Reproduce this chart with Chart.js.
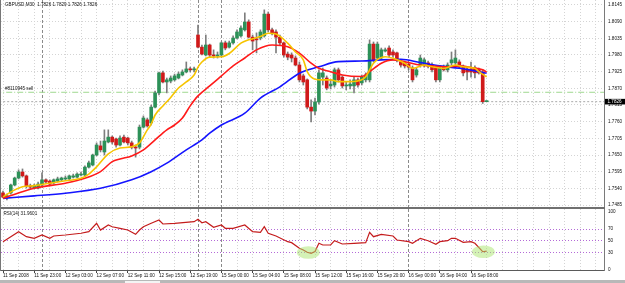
<!DOCTYPE html>
<html>
<head>
<meta charset="utf-8">
<script src="https://cdn.jsdelivr.net/npm/chart.js@4.4.0/dist/chart.umd.min.js"></script>
<style>
  html, body { margin: 0; padding: 0; background: #fff; }
  #wrap { position: relative; width: 625px; height: 283px; overflow: hidden; background: #fff; }
  #priceBox { position: absolute; left: 0; top: 0; width: 625px; height: 207px; }
  #rsiBox { position: absolute; left: 0; top: 209px; width: 625px; height: 74px; }
  #sep { position: absolute; left: 0; top: 207px; width: 605px; height: 2px; background: #707070; }
  #leftEdge { position: absolute; left: 0; top: 0; width: 1px; height: 271px; background: #777; }
  #bottomBar { position: absolute; left: 0; top: 280px; width: 625px; height: 3px; background: #b8b8b8; }
  #thumb { position: absolute; left: 125px; top: 281px; width: 35px; height: 2px; background: #f4f4f4; }
</style>
</head>
<body>
<div id="wrap">
  <div id="priceBox"><canvas id="priceChart" width="625" height="207"></canvas></div>
  <div id="sep"></div>
  <div id="rsiBox"><canvas id="rsiChart" width="625" height="74"></canvas></div>
  <div id="leftEdge"></div>
  <div id="bottomBar"></div>
  <div id="thumb"></div>
</div>
<script>
// GBPUSD M30 candles, bar 0 = 11 Sep 2008 19:00
const candleOpen = [
  1.7525, 1.7511, 1.7525, 1.7551, 1.7574, 1.7594, 1.7581, 1.7548, 1.7541, 1.7541,
  1.7551, 1.7568, 1.7564, 1.7558, 1.7564, 1.7568, 1.7571, 1.7571, 1.7577, 1.7577,
  1.7584, 1.7584, 1.7610, 1.7617, 1.7650, 1.7680, 1.7660, 1.7693, 1.7709, 1.7703,
  1.7683, 1.7709, 1.7706, 1.7690, 1.7676, 1.7676, 1.7742, 1.7766, 1.7756, 1.7808,
  1.7855, 1.7921, 1.7891, 1.7894, 1.7898, 1.7904, 1.7914, 1.7924, 1.7934, 1.7931,
  1.8046, 1.8006, 1.7980, 1.8013, 1.7980, 1.7977, 1.7980, 1.8020, 1.8006, 1.8020,
  1.8036, 1.8043, 1.8063, 1.8089, 1.8039, 1.8033, 1.8036, 1.8043, 1.8115, 1.8063,
  1.8056, 1.8039, 1.8020, 1.7983, 1.7980, 1.7970, 1.7947, 1.7911, 1.7898, 1.7808,
  1.7795, 1.7825, 1.7907, 1.7904, 1.7878, 1.7881, 1.7931, 1.7907, 1.7878, 1.7878,
  1.7878, 1.7898, 1.7888, 1.7898, 1.7898, 1.8016, 1.7970, 1.7970, 1.7993, 1.8003,
  1.7990, 1.7987, 1.7957, 1.7954, 1.7950, 1.7937, 1.7914, 1.7947, 1.7947, 1.7954,
  1.7947, 1.7937, 1.7898, 1.7940, 1.7931, 1.7954, 1.7954, 1.7957, 1.7940, 1.7934,
  1.7934, 1.7937, 1.7931, 1.7924, 1.7826
];
const candleHigh = [
  1.7531, 1.7521, 1.7554, 1.7577, 1.7601, 1.7604, 1.7584, 1.7554, 1.7554, 1.7561,
  1.7591, 1.7571, 1.7568, 1.7571, 1.7577, 1.7577, 1.7581, 1.7584, 1.7587, 1.7591,
  1.7594, 1.7614, 1.7630, 1.7653, 1.7690, 1.7696, 1.7733, 1.7733, 1.7713, 1.7706,
  1.7713, 1.7716, 1.7709, 1.7696, 1.7683, 1.7749, 1.7779, 1.7772, 1.7815, 1.7861,
  1.7924, 1.7927, 1.7904, 1.7911, 1.7917, 1.7924, 1.7931, 1.7957, 1.7940, 1.7940,
  1.8079, 1.8013, 1.8046, 1.8016, 1.7997, 1.7990, 1.8023, 1.8026, 1.8026, 1.8043,
  1.8063, 1.8076, 1.8119, 1.8096, 1.8046, 1.8053, 1.8063, 1.8129, 1.8122, 1.8069,
  1.8063, 1.8046, 1.8023, 1.7990, 1.7987, 1.7977, 1.7957, 1.7917, 1.7901, 1.7832,
  1.7838, 1.7931, 1.7937, 1.7911, 1.7898, 1.7937, 1.7937, 1.7911, 1.7891, 1.7898,
  1.7907, 1.7904, 1.7914, 1.7921, 1.8030, 1.8023, 1.8023, 1.8003, 1.8003, 1.8010,
  1.7997, 1.7990, 1.7964, 1.7960, 1.7957, 1.7944, 1.7937, 1.7980, 1.7970, 1.7960,
  1.7954, 1.7944, 1.7944, 1.7947, 1.7954, 1.7990, 1.7997, 1.7964, 1.7947, 1.7940,
  1.7957, 1.7944, 1.7937, 1.7931, 1.7829
];
const candleLow = [
  1.7508, 1.7502, 1.7521, 1.7548, 1.7571, 1.7577, 1.7541, 1.7538, 1.7538, 1.7538,
  1.7548, 1.7558, 1.7551, 1.7554, 1.7561, 1.7564, 1.7568, 1.7568, 1.7574, 1.7574,
  1.7581, 1.7581, 1.7607, 1.7614, 1.7647, 1.7660, 1.7650, 1.7690, 1.7686, 1.7676,
  1.7680, 1.7690, 1.7683, 1.7670, 1.7643, 1.7670, 1.7739, 1.7742, 1.7749, 1.7805,
  1.7848, 1.7888, 1.7855, 1.7888, 1.7894, 1.7901, 1.7911, 1.7921, 1.7924, 1.7924,
  1.8003, 1.7980, 1.7977, 1.7973, 1.7970, 1.7970, 1.7977, 1.7997, 1.8003, 1.8016,
  1.8033, 1.8039, 1.8059, 1.8036, 1.7997, 1.7987, 1.8030, 1.8039, 1.8056, 1.8046,
  1.7987, 1.8013, 1.7973, 1.7964, 1.7957, 1.7944, 1.7891, 1.7881, 1.7802, 1.7759,
  1.7782, 1.7818, 1.7881, 1.7865, 1.7868, 1.7874, 1.7891, 1.7871, 1.7865, 1.7868,
  1.7855, 1.7874, 1.7881, 1.7891, 1.7891, 1.7957, 1.7964, 1.7964, 1.7990, 1.7973,
  1.7973, 1.7957, 1.7940, 1.7937, 1.7931, 1.7891, 1.7907, 1.7940, 1.7940, 1.7937,
  1.7924, 1.7891, 1.7891, 1.7927, 1.7924, 1.7947, 1.7944, 1.7937, 1.7911, 1.7898,
  1.7907, 1.7904, 1.7917, 1.7820, 1.7826
];
const candleClose = [
  1.7511, 1.7515, 1.7551, 1.7574, 1.7594, 1.7581, 1.7548, 1.7544, 1.7548, 1.7554,
  1.7568, 1.7561, 1.7554, 1.7568, 1.7571, 1.7574, 1.7574, 1.7581, 1.7581, 1.7587,
  1.7587, 1.7610, 1.7624, 1.7650, 1.7683, 1.7667, 1.7696, 1.7709, 1.7693, 1.7683,
  1.7706, 1.7693, 1.7690, 1.7676, 1.7673, 1.7742, 1.7772, 1.7746, 1.7808, 1.7855,
  1.7921, 1.7891, 1.7898, 1.7904, 1.7911, 1.7917, 1.7924, 1.7934, 1.7931, 1.7934,
  1.8006, 1.7983, 1.8013, 1.7980, 1.7977, 1.7980, 1.8020, 1.8003, 1.8020, 1.8036,
  1.8056, 1.8069, 1.8089, 1.8039, 1.8026, 1.8030, 1.8056, 1.8115, 1.8063, 1.8053,
  1.8039, 1.8020, 1.7980, 1.7973, 1.7970, 1.7947, 1.7898, 1.7891, 1.7808, 1.7795,
  1.7825, 1.7921, 1.7921, 1.7871, 1.7884, 1.7931, 1.7898, 1.7878, 1.7881, 1.7884,
  1.7898, 1.7881, 1.7907, 1.7914, 1.8016, 1.7964, 1.8016, 1.7997, 1.7997, 1.7980,
  1.7980, 1.7964, 1.7947, 1.7944, 1.7940, 1.7898, 1.7931, 1.7970, 1.7964, 1.7944,
  1.7931, 1.7898, 1.7937, 1.7931, 1.7947, 1.7964, 1.7970, 1.7940, 1.7921, 1.7924,
  1.7924, 1.7921, 1.7921, 1.7826, 1.7826
];

// moving averages (bar index -> price)
const fastBar = [0, 3, 5, 8, 12, 16, 20, 22, 24, 27, 30, 33, 35, 37, 38, 39, 41, 43, 45, 47,
  49, 50, 51, 53, 56, 58, 61, 63, 66, 68, 70, 73, 75, 77, 78, 80, 82, 84, 86, 89,
  92, 93, 95, 98, 100, 103, 105, 108, 110, 113, 116, 118, 121, 122, 124];
const fastMa = [1.7512, 1.7535, 1.7545, 1.7549, 1.7557, 1.7565, 1.7573, 1.7587, 1.7611, 1.7654,
  1.7673, 1.7677, 1.7690, 1.7733, 1.7752, 1.7782, 1.7812, 1.7840, 1.7871, 1.7891,
  1.7914, 1.7940, 1.7957, 1.7973, 1.7974, 1.7985, 1.8019, 1.8030, 1.8041, 1.8052,
  1.8049, 1.8019, 1.7990, 1.7964, 1.7925, 1.7900, 1.7898, 1.7898, 1.7892, 1.7892,
  1.7898, 1.7908, 1.7953, 1.7974, 1.7969, 1.7953, 1.7936, 1.7947, 1.7941, 1.7936,
  1.7947, 1.7941, 1.7936, 1.7925, 1.7908];

const midBar = [0, 8, 16, 21, 25, 28, 30, 33, 36, 39, 42, 44, 46, 48, 50, 53, 56, 59, 62, 65,
  69, 73, 76, 79, 81, 84, 87, 92, 94, 97, 100, 103, 107, 110, 114, 117, 120, 123, 124];
const midMa = [1.7507, 1.7540, 1.7557, 1.7573, 1.7595, 1.7628, 1.7637, 1.7647, 1.7667, 1.7700,
  1.7733, 1.7749, 1.7772, 1.7812, 1.7845, 1.7878, 1.7911, 1.7944, 1.7970, 1.7997,
  1.8013, 1.8007, 1.7986, 1.7953, 1.7936, 1.7925, 1.7914, 1.7909, 1.7925, 1.7953,
  1.7964, 1.7958, 1.7947, 1.7944, 1.7941, 1.7944, 1.7939, 1.7931, 1.7924];

const slowBar = [0, 8, 16, 25, 33, 38, 42, 47, 51, 53, 56, 62, 66, 71, 76, 81, 86, 92, 97, 102,
  107, 112, 117, 122, 124];
const slowMa = [1.7507, 1.7515, 1.7524, 1.7540, 1.7568, 1.7595, 1.7623, 1.7667, 1.7700, 1.7722,
  1.7749, 1.7788, 1.7838, 1.7875, 1.7920, 1.7941, 1.7958, 1.7960, 1.7964, 1.7966,
  1.7955, 1.7944, 1.7936, 1.7925, 1.7920];

// RSI(14)
const rsiBar = [0, 4, 6, 8, 10, 12, 13, 16, 20, 22, 24, 25, 27, 28, 30, 32, 34, 35, 36, 38,
  40, 41, 44, 49, 50, 51, 52, 54, 56, 57, 59, 62, 64, 66, 67, 68, 70, 73, 74, 76,
  77, 78, 79, 80, 81, 82, 84, 85, 87, 90, 93, 94, 95, 97, 100, 101, 104, 105, 107, 109,
  111, 112, 114, 115, 116, 118, 120, 121, 123, 124];
const rsiVal = [48.3, 65.5, 56.9, 54.1, 59.8, 54.1, 58.1, 59.8, 62.8, 65.5, 80.0, 68.4, 77.1, 74.1, 71.4, 68.4, 61.0, 68.4, 74.1, 80.0,
  85.7, 78.8, 80.0, 82.8, 86.9, 81.0, 82.8, 73.1, 77.1, 71.4, 71.4, 77.1, 65.5, 64.5, 74.1, 62.8, 58.1, 48.3, 46.6, 36.9,
  34.0, 30.0, 28.3, 31.5, 45.5, 42.6, 42.6, 50.0, 44.3, 45.5, 46.6, 64.5, 56.9, 61.0, 58.1, 51.2, 48.3, 45.5, 54.1, 50.0,
  43.8, 48.3, 50.0, 54.1, 54.1, 47.2, 48.3, 45.5, 31.0, 31.96];
const rsiLevels = [30, 50, 70];
const rsiTicks = [0, 30, 50, 70, 100];
const rsiMarkBar = [78.3, 123.2];
const rsiMarkVal = [29.7, 31.0];

const priceTicks = [1.7485, 1.7540, 1.7595, 1.7650, 1.7705, 1.7760, 1.7815, 1.7870, 1.7925, 1.7980, 1.8035, 1.8090, 1.8145];
const timeLabels = ['11 Sep 2008', '11 Sep 23:00', '12 Sep 03:00', '12 Sep 07:00', '12 Sep 11:00', '12 Sep 15:00',
  '12 Sep 19:00', '15 Sep 00:00', '15 Sep 04:00', '15 Sep 08:00', '15 Sep 12:00', '15 Sep 16:00',
  '15 Sep 20:00', '16 Sep 00:00', '16 Sep 04:00', '16 Sep 08:00'];
const labelBars = [0, 8, 16, 24, 32, 40, 48, 56, 64, 72, 80, 88, 96, 104, 112, 120];
const separatorBars = [10, 50, 56, 104];

const symbolName = 'GBPUSD,M30';
const orderTicket = '8110945';
const orderPrice = 1.7857;

// layout
const xMin = -0.513, xMax = 154.1;
const fontFamily = "'Liberation Sans', Arial, sans-serif";
const fontSmall = { family: fontFamily, size: 4.6 };
const gridBars = [];
for (let b = 0; b <= 152; b += 4) gridBars.push(b);
separatorBars.forEach(b => { if (!gridBars.includes(b)) gridBars.push(b); });
gridBars.sort((a, b) => a - b);

Chart.defaults.font.family = fontFamily;
Chart.defaults.color = '#111';

function isSep(c) { return c.tick && separatorBars.includes(c.tick.value); }

function timeAxis(withLabels) {
  return {
    type: 'linear', min: xMin, max: xMax, offset: false,
    afterBuildTicks: s => { s.ticks = gridBars.map(v => ({ value: v })); },
    afterFit: s => { s.height = withLabels ? 13 : 0; s.paddingLeft = 0; s.paddingRight = 0; },
    grid: {
      offset: false, lineWidth: 1,
      color: c => isSep(c) ? '#8a8a8a' : '#d4d4d4',
      drawTicks: withLabels, tickLength: 3, tickWidth: 1,
      tickColor: c => (c.tick && labelBars.includes(c.tick.value)) ? '#444' : 'rgba(0,0,0,0)'
    },
    border: { display: withLabels, color: '#5a5a5a', width: 1, dash: c => isSep(c) ? [3, 2] : [1, 2] },
    ticks: {
      display: withLabels, autoSkip: false, maxRotation: 0, minRotation: 0, align: 'start', padding: 0,
      font: fontSmall, color: '#111',
      callback: v => { const k = labelBars.indexOf(v); return k >= 0 ? timeLabels[k] : ''; }
    }
  };
}

const priceOverlay = {
  id: 'priceOverlay',
  afterDraw(chart) {
    const ctx = chart.ctx, y = chart.scales.y;
    const n = candleClose.length - 1;
    ctx.save();
    ctx.font = '4.6px ' + fontFamily;
    ctx.textBaseline = 'middle';
    ctx.fillStyle = '#111';
    ctx.fillText(symbolName + '  ' + [candleOpen[n], candleHigh[n], candleLow[n], candleClose[n]].map(v => v.toFixed(4)).join(' '), 5, 4.5);
    ctx.fillText('#' + orderTicket + ' sell', 5, y.getPixelForValue(orderPrice) - 3.5);
    const py = y.getPixelForValue(candleClose[n]);
    ctx.fillStyle = '#000';
    ctx.fillRect(605, py - 2.8, 20, 5.6);
    ctx.fillStyle = '#fff';
    ctx.fillText(candleClose[n].toFixed(4), 607.5, py);
    ctx.restore();
  }
};

const rsiOverlay = {
  id: 'rsiOverlay',
  afterDatasetsDraw(chart) {
    const ctx = chart.ctx, x = chart.scales.x, y = chart.scales.y;
    ctx.save();
    ctx.fillStyle = 'rgba(170, 230, 110, 0.5)';
    rsiMarkBar.forEach((b, k) => {
      ctx.beginPath();
      ctx.ellipse(x.getPixelForValue(b), y.getPixelForValue(rsiMarkVal[k]), 11.5, 6.3, 0, 0, Math.PI * 2);
      ctx.fill();
    });
    ctx.font = '4.6px ' + fontFamily;
    ctx.textBaseline = 'middle';
    ctx.fillStyle = '#111';
    ctx.fillText('RSI(14) ' + (31.9601).toFixed(4), 3.5, 5);
    ctx.restore();
  }
};

const bodies = candleOpen.map((o, i) => ({ x: i, y: [o, candleClose[i]] }));
const wicks = candleLow.map((l, i) => ({ x: i, y: [l, candleHigh[i]] }));
const bodyColors = candleOpen.map((o, i) => candleClose[i] >= o ? '#2d9158' : '#d01a1a');

new Chart(document.getElementById('priceChart'), {
  type: 'bar',
  data: {
    datasets: [
      { type: 'line', label: 'fast', data: fastBar.map((b, k) => ({ x: b, y: fastMa[k] })), borderColor: '#f6c400',
        borderWidth: 1.6, pointRadius: 0, cubicInterpolationMode: 'monotone', order: 0 },
      { type: 'line', label: 'mid', data: midBar.map((b, k) => ({ x: b, y: midMa[k] })), borderColor: '#ff1a1a',
        borderWidth: 1.6, pointRadius: 0, cubicInterpolationMode: 'monotone', order: 1 },
      { type: 'line', label: 'slow', data: slowBar.map((b, k) => ({ x: b, y: slowMa[k] })), borderColor: '#1414ff',
        borderWidth: 1.6, pointRadius: 0, cubicInterpolationMode: 'monotone', order: 2 },
      { label: 'body', data: bodies, backgroundColor: bodyColors, barThickness: 3, grouped: false, minBarLength: 1, order: 3 },
      { label: 'wick', data: wicks, backgroundColor: '#7d7d7d', barThickness: 1, grouped: false, order: 4 },
      { type: 'line', label: 'order', data: [{ x: -2, y: orderPrice }, { x: 160, y: orderPrice }], borderColor: '#9fd98f',
        borderWidth: 1, borderDash: [6, 2, 1, 2], pointRadius: 0, order: 5 },
      { type: 'line', label: 'bid', data: [{ x: -2, y: candleClose[candleClose.length - 1] }, { x: 160, y: candleClose[candleClose.length - 1] }],
        borderColor: '#a9a9a9', borderWidth: 1, borderDash: [2, 2], pointRadius: 0, order: 6 }
    ]
  },
  options: {
    responsive: false, animation: false, devicePixelRatio: 1,
    layout: { padding: { left: 1, right: 0, top: 0, bottom: 0 } },
    plugins: { legend: { display: false }, tooltip: { enabled: false } },
    scales: {
      x: timeAxis(false),
      y: {
        position: 'right', min: 1.74784, max: 1.81615,
        afterBuildTicks: s => { s.ticks = priceTicks.map(v => ({ value: v })); },
        afterFit: s => { s.width = 21; s.paddingTop = 0; s.paddingBottom = 0; },
        grid: { color: '#d4d4d4', drawTicks: false },
        border: { display: true, color: '#7a7a7a', width: 1, dash: [1, 2] },
        ticks: { padding: 4, font: fontSmall, color: '#111', callback: v => v.toFixed(4) }
      }
    }
  },
  plugins: [priceOverlay]
});

new Chart(document.getElementById('rsiChart'), {
  type: 'line',
  data: {
    datasets: [
      { label: 'RSI', data: rsiBar.map((b, k) => ({ x: b, y: rsiVal[k] })), borderColor: '#c41c1c',
        borderWidth: 1.2, pointRadius: 0, tension: 0 }
    ]
  },
  options: {
    responsive: false, animation: false, devicePixelRatio: 1,
    layout: { padding: { left: 1, right: 0, top: 0, bottom: 0 } },
    plugins: { legend: { display: false }, tooltip: { enabled: false } },
    scales: {
      x: timeAxis(true),
      y: {
        position: 'right', min: -0.52, max: 104.66,
        afterBuildTicks: s => { s.ticks = rsiTicks.map(v => ({ value: v })); },
        afterFit: s => { s.width = 21; s.paddingTop = 0; s.paddingBottom = 0; },
        grid: { color: c => (c.tick && rsiLevels.includes(c.tick.value)) ? '#b46ad8' : 'rgba(0,0,0,0)', drawTicks: false },
        border: { display: true, color: '#7a7a7a', width: 1, dash: [1, 2] },
        ticks: { padding: 4, font: fontSmall, color: '#111', callback: v => String(v) }
      }
    }
  },
  plugins: [rsiOverlay]
});
</script>
</body>
</html>
